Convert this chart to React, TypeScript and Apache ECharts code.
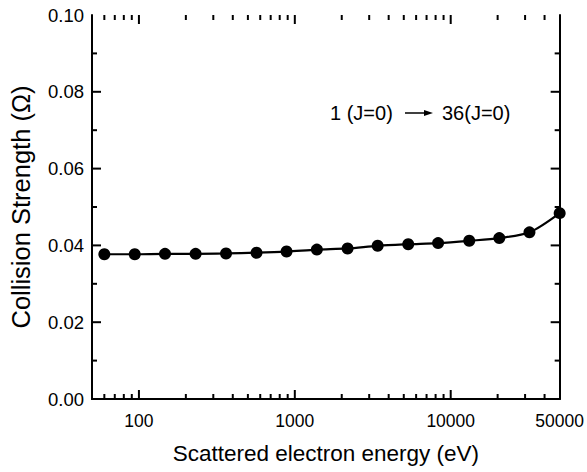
import React, { useEffect, useRef } from "react";
import * as echarts from "echarts";

const energies = [60, 94, 147, 231, 362, 568, 885, 1385, 2180, 3400, 5340, 8300, 13150, 20500, 32000, 50000];
const strengths = [0.0377, 0.0377, 0.0378, 0.0378, 0.0379, 0.0381, 0.0384, 0.0389, 0.0392, 0.0399, 0.0403, 0.0406, 0.0412, 0.0419, 0.0434, 0.0484];

const xMin = 50;
const xMax = 50000;
const yMin = 0;
const yMax = 0.1;
const xMajorTicks = [100, 1000, 10000];
const xMinorTicks = [60, 70, 80, 90, 200, 300, 400, 500, 600, 700, 800, 900, 2000, 3000, 4000, 5000, 6000, 7000, 8000, 9000, 20000, 30000, 40000];
const xTickLabels = [100, 1000, 10000, 50000];
const yMajorTicks = [0.02, 0.04, 0.06, 0.08];
const yMinorTicks = [0.01, 0.03, 0.05, 0.07, 0.09];

const FONT = "'Liberation Sans', Arial, sans-serif";
const MAJOR = 9;
const MINOR = 5;

export default function App() {
  const ref = useRef<HTMLDivElement>(null);
  useEffect(() => {
    if (!ref.current) return;
    const chart = echarts.init(ref.current, null, { renderer: "svg" });
    const axisLine = { show: true, lineStyle: { color: "#000", width: 2 } };
    const noTick = { show: false };
    const baseX = { type: "log", min: xMin, max: xMax, logBase: 10, splitLine: { show: false }, minorTick: { show: false }, axisTick: noTick };

    // inward tick marks: [x, y, pixel dx, pixel dy]
    const tickData: number[][] = [];
    xMajorTicks.forEach((v) => { tickData.push([v, yMin, 0, -MAJOR]); tickData.push([v, yMax, 0, MAJOR]); });
    xMinorTicks.forEach((v) => { tickData.push([v, yMin, 0, -MINOR]); tickData.push([v, yMax, 0, MINOR]); });
    yMajorTicks.forEach((v) => { tickData.push([xMin, v, MAJOR, 0]); tickData.push([xMax, v, -MAJOR, 0]); });
    yMinorTicks.forEach((v) => { tickData.push([xMin, v, MINOR, 0]); tickData.push([xMax, v, -MINOR, 0]); });

    chart.setOption({
      animation: false,
      backgroundColor: "#fff",
      grid: { left: 89, right: 25, top: 15, bottom: 73, containLabel: false },
      xAxis: [
        {
          ...baseX,
          position: "bottom",
          axisLine,
          axisLabel: { customValues: xTickLabels, formatter: (v: number) => String(Math.round(v)), color: "#000", fontSize: 17.5, fontFamily: FONT, margin: 13 },
          name: "Scattered electron energy (eV)",
          nameLocation: "middle",
          nameGap: 43,
          nameTextStyle: { color: "#000", fontSize: 22.5, fontFamily: FONT },
        },
        { ...baseX, position: "top", axisLine, axisLabel: { show: false } },
      ],
      yAxis: [
        {
          type: "value", min: yMin, max: yMax, interval: 0.02, position: "left", axisLine, axisTick: noTick, splitLine: { show: false },
          axisLabel: { formatter: (v: number) => v.toFixed(2), color: "#000", fontSize: 18.5, fontFamily: FONT, margin: 8 },
          name: "Collision Strength (Ω)", nameLocation: "middle", nameGap: 58,
          nameTextStyle: { color: "#000", fontSize: 25.5, fontFamily: FONT },
        },
        { type: "value", min: yMin, max: yMax, interval: 0.02, position: "right", axisLine, axisTick: noTick, splitLine: { show: false }, axisLabel: { show: false } },
      ],
      series: [
        {
          type: "custom",
          xAxisIndex: 0,
          yAxisIndex: 0,
          silent: true,
          clip: false,
          z: 3,
          data: tickData,
          encode: { x: 0, y: 1 },
          renderItem: (params: any, api: any) => {
            const p = api.coord([api.value(0), api.value(1)]);
            return {
              type: "line",
              shape: { x1: p[0], y1: p[1], x2: p[0] + api.value(2), y2: p[1] + api.value(3) },
              style: { stroke: "#000", lineWidth: 2 },
            };
          },
        },
        {
          type: "line",
          xAxisIndex: 0,
          yAxisIndex: 0,
          data: energies.map((e, i) => [e, strengths[i]]),
          smooth: 0.3,
          symbol: "circle",
          symbolSize: 12,
          clip: false,
          lineStyle: { color: "#000", width: 2.2 },
          itemStyle: { color: "#000" },
          z: 5,
        },
      ],
      graphic: [
        { type: "text", left: 330, top: 103, style: { text: "1 (J=0)", fontSize: 20, fontFamily: FONT, fill: "#000" } },
        { type: "line", shape: { x1: 405, y1: 113, x2: 426, y2: 113 }, style: { stroke: "#000", lineWidth: 1.5 } },
        { type: "polygon", shape: { points: [[424, 110], [433, 113], [424, 116]] }, style: { fill: "#000" } },
        { type: "text", left: 442, top: 103, style: { text: "36(J=0)", fontSize: 20, fontFamily: FONT, fill: "#000" } },
      ],
    });
    return () => chart.dispose();
  }, []);
  return <div ref={ref} style={{ position: "fixed", left: 0, top: 0, width: 587, height: 472 }} />;
}
